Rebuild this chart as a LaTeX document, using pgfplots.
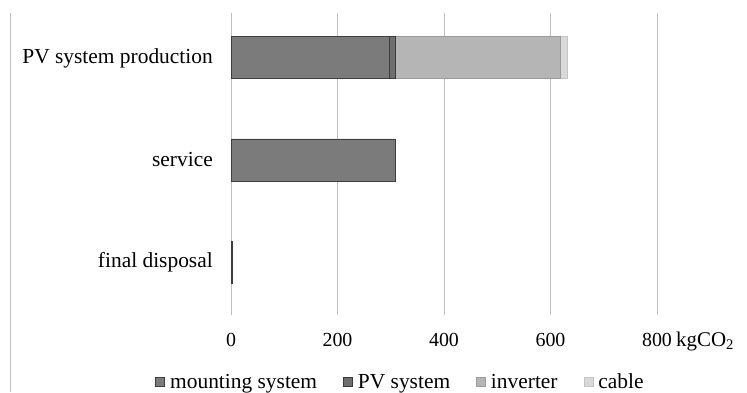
\documentclass[border=0pt]{standalone}
\usepackage{pgfplots}
\pgfplotsset{compat=1.18}
\usepackage{fontspec}
\setmainfont{Liberation Serif}

\definecolor{mnt}{HTML}{7B7B7B}
\definecolor{mntd}{HTML}{3F3F3F}
\definecolor{pvs}{HTML}{6E6E6E}
\definecolor{pvsd}{HTML}{3A3A3A}
\definecolor{inv}{HTML}{B5B5B5}
\definecolor{invd}{HTML}{9A9A9A}
\definecolor{cab}{HTML}{D9D9D9}
\definecolor{cabd}{HTML}{C4C4C4}
\definecolor{gridc}{HTML}{BEBEBE}

\begin{document}
\begin{tikzpicture}[x=1bp,y=1bp]
\path[use as bounding box] (0,0) rectangle (747,392);
% outer frame edge on the left
\draw[gridc, line width=1bp] (10,0) -- (10,379);
\begin{axis}[
  at={(231bp,77bp)}, anchor=south west,
  scale only axis, width=426bp, height=302bp,
  xbar stacked, bar width=42bp,
  xmin=0, xmax=800, ymin=-0.44, ymax=2.52, y dir=reverse,
  ytick={0,1,2},
  yticklabels={PV system production, service, final disposal},
  xtick={0,200,400,600,800},
  xmajorgrids, grid style={gridc, line width=1bp},
  axis line style={draw=none},
  major tick length=0pt,
  yticklabel style={font=\fontsize{21.5}{26}\selectfont, inner sep=0pt, xshift=-18bp},
  xticklabel style={font=\fontsize{20}{24}\selectfont, inner sep=0pt, anchor=base, yshift=-31.5bp},
  /pgf/number format/assume math mode=true,
  legend columns=4,
  legend style={at={(-0.178,-0.222)}, anchor=west, draw=none, fill=none, inner sep=0pt,
    font=\fontsize{21.5}{26}\selectfont,
    nodes={inner sep=0pt},
    /tikz/every odd column/.append style={column sep=5bp},
    /tikz/every even column/.append style={column sep=26bp}},
  legend image code/.code={\draw[#1, line width=0.8bp] (0bp,-4.5bp) rectangle (9bp,4.5bp);},
]
\addplot[fill=mnt, draw=mntd, line width=0.8bp] coordinates {(298,0) (308,1) (2,2)};
\addplot[fill=pvs, draw=pvsd, line width=0.8bp] coordinates {(10,0)};
\addplot[fill=inv, draw=invd, line width=0.8bp] coordinates {(310,0)};
\addplot[fill=cab, draw=cabd, line width=0.8bp] coordinates {(13,0)};
\legend{mounting system, PV system, inverter, cable}
\end{axis}
\node[anchor=base west, inner sep=0pt, font=\fontsize{21}{25}\selectfont] at (676,45.5) {kgCO\textsubscript{2}};
\end{tikzpicture}
\end{document}
